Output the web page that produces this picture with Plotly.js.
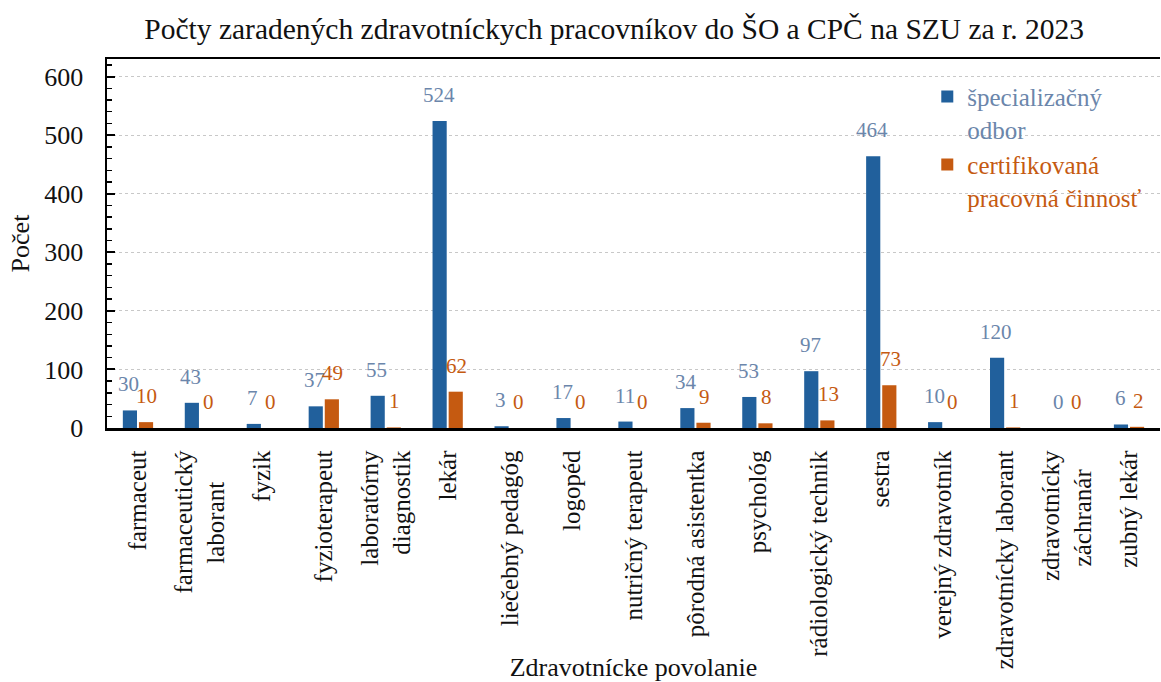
<!DOCTYPE html>
<html>
<head>
<meta charset="utf-8">
<script src="https://cdn.plot.ly/plotly-3.0.1.min.js"></script>
<style>html,body{margin:0;padding:0;background:#fff;}#chart{width:1161px;height:682px;}</style>
</head>
<body>
<div id="chart"></div>
<script>
const categories = ["farmaceut","farmaceutický laborant","fyzik","fyzioterapeut","laboratórny diagnostik","lekár","liečebný pedagóg","logopéd","nutričný terapeut","pôrodná asistentka","psychológ","rádiologický technik","sestra","verejný zdravotník","zdravotnícky laborant","zdravotnícky záchranár","zubný lekár"];
const tickLabels = ["farmaceut","farmaceutický<br>laborant\u00a0\u00a0\u00a0\u00a0\u00a0","fyzik","fyzioterapeut","laboratórny<br>diagnostik","lekár","liečebný pedagóg","logopéd","nutričný terapeut","pôrodná asistentka","psychológ","rádiologický technik","sestra","verejný zdravotník","zdravotnícky laborant","zdravotnícky<br>záchranár\u00a0\u00a0\u00a0","zubný lekár"];
const specializacnyOdbor = [30,43,7,37,55,524,3,17,11,34,53,97,464,10,120,0,6];
const certifikovanaCinnost = [10,0,0,49,1,62,0,0,0,9,8,13,73,0,1,0,2];
const seriesNames = ["špecializačný<br>odbor","certifikovaná<br>pracovná činnosť"];

const blue = "#21609c", orange = "#c55a11";
const blueText = "#6b86ab", orangeText = "#c55a11";
const font = "'Liberation Serif', 'Times New Roman', serif";

const traces = [
  {type:"bar", x:categories, y:specializacnyOdbor, name:`<span style="color:${blueText}">${seriesNames[0]}</span>`, marker:{color:blue}},
  {type:"bar", x:categories, y:certifikovanaCinnost, name:`<span style="color:${orangeText}">${seriesNames[1]}</span>`, marker:{color:orange}}
];

const annotations = [];
categories.forEach((c,i)=>{
  annotations.push({x:c, y:specializacnyOdbor[i], xref:"x", yref:"y", text:String(specializacnyOdbor[i]), showarrow:false, xshift:-9, yshift:12, yanchor:"bottom", font:{family:font, size:21, color:blueText}});
  annotations.push({x:c, y:certifikovanaCinnost[i], xref:"x", yref:"y", text:String(certifikovanaCinnost[i]), showarrow:false, xshift:9, yshift:12, yanchor:"bottom", font:{family:font, size:21, color:orangeText}});
});

const layout = {
  width:1161, height:682,
  margin:{l:107, r:1, t:59, b:254},
  paper_bgcolor:"#fff", plot_bgcolor:"#fff",
  font:{family:font, size:25, color:"#111"},
  title:{text:"Počty zaradených zdravotníckych pracovníkov do ŠO a CPČ na SZU za r. 2023", x:0.529, xanchor:"center", y:0.958, yanchor:"middle", font:{family:font, size:29.5, color:"#111"}},
  barmode:"group", bargap:0.48, bargroupgap:0.12,
  showlegend:true,
  legend:{x:0.779, y:0.96, xanchor:"left", yanchor:"top", valign:"top", bgcolor:"rgba(0,0,0,0)", font:{family:font, size:25}, tracegroupgap:0, itemwidth:30},
  xaxis:{type:"category", tickmode:"array", tickvals:categories, ticktext:tickLabels, tickangle:-90, showline:true, linecolor:"#000", linewidth:2.5, mirror:true, ticks:"", showgrid:false, tickfont:{family:font, size:25, color:"#111"}, ticklabelstandoff:10,
    title:{text:"Zdravotnícke povolanie", font:{family:font, size:26, color:"#111"}, standoff:0}, automargin:false},
  yaxis:{range:[0,630], dtick:100, showline:true, linecolor:"#000", linewidth:2.5, ticks:"inside", ticklen:8, tickwidth:2, tickcolor:"#000", showgrid:true, gridcolor:"#c8c8c8", griddash:"dot", gridwidth:1.2, zeroline:false,
    minor:{dtick:20, ticks:"inside", ticklen:5, tickwidth:1.5, tickcolor:"#000", showgrid:false},
    tickfont:{family:font, size:26, color:"#111"}, ticklabelstandoff:16,
    title:{text:"Počet", font:{family:font, size:26, color:"#111"}, standoff:7}, automargin:false},
  annotations:annotations
};

Plotly.newPlot("chart", traces, layout, {displayModeBar:false, staticPlot:true});
</script>
</body>
</html>
